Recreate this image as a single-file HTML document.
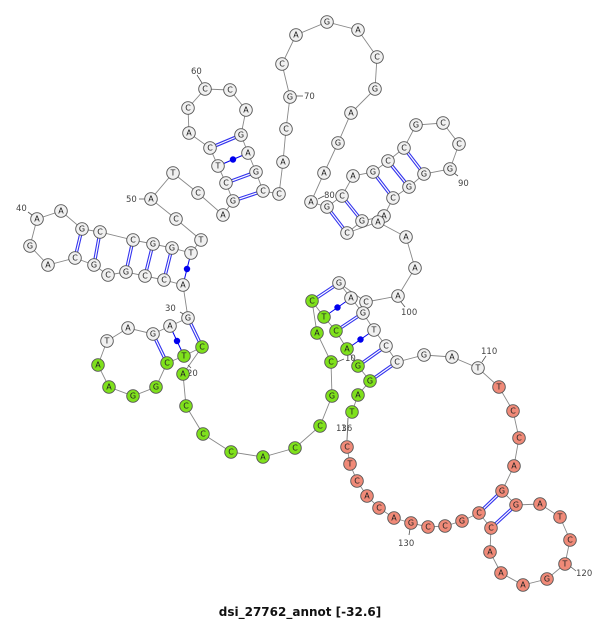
<!DOCTYPE html>
<html><head><meta charset="utf-8"><style>
html,body{margin:0;padding:0;background:#fff;width:600px;height:623px;overflow:hidden}
svg{display:block}
.n circle{stroke:#555;stroke-width:0.9}
.n text{font-family:"DejaVu Sans","Liberation Sans",sans-serif;font-size:8px;text-anchor:middle;dominant-baseline:central;fill:#222}
.w circle{fill:#f0f0f0}.g circle{fill:#7fe11c}.r circle{fill:#f08a78}
.lb{font-family:"DejaVu Sans","Liberation Sans",sans-serif;font-size:8.5px;fill:#444}
</style></head><body>
<svg width="600" height="623" viewBox="0 0 600 623" xmlns="http://www.w3.org/2000/svg">
<polyline fill="none" stroke="#888" stroke-width="0.9" points="352,412 358,395 370,381 358,366 347,349 336,331 324,317 312,301 317,333 331,362 332,396 320,426 295,448 263,457 231,452 203,434 186,406 183,374 202,347 184,356 167,363 156,387 133,396 109,387 98,365 107,341 128,328 153,334 170,326 188,318 183,285 164,280 145,276 126,272 108,275 94,265 75,258 48,265 30,246 37,219 61,211 82,229 100,232 133,240 153,244 172,248 191,253 201,240 176,219 151,199 173,173 198,193 223,215 233,201 226,183 218,166 210,148 189,133 188,108 205,89 230,90 246,110 241,135 248,153 256,172 263,191 279,194 283,162 286,129 290,97 282,64 296,35 327,22 358,30 377,57 375,89 351,113 338,143 324,173 311,202 327,207 342,196 353,176 373,172 388,161 404,148 416,125 443,123 459,144 450,169 424,174 409,187 393,198 384,216 362,221 347,233 378,222 406,237 415,268 398,296 366,302 339,283 351,298 363,313 374,330 386,346 397,362 424,355 452,357 478,368 499,387 513,411 519,438 514,466 502,491 516,505 540,504 560,517 570,540 565,564 547,579 523,585 501,573 490,552 491,528 479,513 462,521 445,526 428,527 411,523 394,518 379,508 367,496 357,481 350,464 347,447"/>
<g stroke="#3333ee" stroke-width="3.4">
<line x1="312" y1="301" x2="339" y2="283"/><line x1="336" y1="331" x2="363" y2="313"/><line x1="358" y1="366" x2="386" y2="346"/><line x1="370" y1="381" x2="397" y2="362"/>
<line x1="202" y1="347" x2="188" y2="318"/><line x1="167" y1="363" x2="153" y2="334"/>
<line x1="172" y1="248" x2="164" y2="280"/><line x1="153" y1="244" x2="145" y2="276"/><line x1="133" y1="240" x2="126" y2="272"/><line x1="100" y1="232" x2="94" y2="265"/><line x1="82" y1="229" x2="75" y2="258"/>
<line x1="233" y1="201" x2="263" y2="191"/><line x1="226" y1="183" x2="256" y2="172"/><line x1="210" y1="148" x2="241" y2="135"/>
<line x1="327" y1="207" x2="347" y2="233"/><line x1="342" y1="196" x2="362" y2="221"/><line x1="373" y1="172" x2="393" y2="198"/><line x1="388" y1="161" x2="409" y2="187"/><line x1="404" y1="148" x2="424" y2="174"/>
<line x1="502" y1="491" x2="479" y2="513"/><line x1="516" y1="505" x2="491" y2="528"/>
</g>
<g stroke="#fff" stroke-width="1.2">
<line x1="312" y1="301" x2="339" y2="283"/><line x1="336" y1="331" x2="363" y2="313"/><line x1="358" y1="366" x2="386" y2="346"/><line x1="370" y1="381" x2="397" y2="362"/>
<line x1="202" y1="347" x2="188" y2="318"/><line x1="167" y1="363" x2="153" y2="334"/>
<line x1="172" y1="248" x2="164" y2="280"/><line x1="153" y1="244" x2="145" y2="276"/><line x1="133" y1="240" x2="126" y2="272"/><line x1="100" y1="232" x2="94" y2="265"/><line x1="82" y1="229" x2="75" y2="258"/>
<line x1="233" y1="201" x2="263" y2="191"/><line x1="226" y1="183" x2="256" y2="172"/><line x1="210" y1="148" x2="241" y2="135"/>
<line x1="327" y1="207" x2="347" y2="233"/><line x1="342" y1="196" x2="362" y2="221"/><line x1="373" y1="172" x2="393" y2="198"/><line x1="388" y1="161" x2="409" y2="187"/><line x1="404" y1="148" x2="424" y2="174"/>
<line x1="502" y1="491" x2="479" y2="513"/><line x1="516" y1="505" x2="491" y2="528"/>
</g>
<g stroke="#0000ee" stroke-width="1"><line x1="324" y1="317" x2="351" y2="298"/><line x1="347" y1="349" x2="374" y2="330"/><line x1="184" y1="356" x2="170" y2="326"/><line x1="191" y1="253" x2="183" y2="285"/><line x1="218" y1="166" x2="248" y2="153"/></g>
<g fill="#0000ee"><circle cx="337.5" cy="307.5" r="3.2"/><circle cx="360.5" cy="339.5" r="3.2"/><circle cx="177" cy="341" r="3.2"/><circle cx="187" cy="269" r="3.2"/><circle cx="233" cy="159.5" r="3.2"/></g>
<g stroke="#555" stroke-width="0.8">
<line x1="197" y1="75" x2="202" y2="83"/><line x1="296" y1="96" x2="303" y2="96"/><line x1="28" y1="212" x2="32" y2="215"/><line x1="139" y1="199" x2="145" y2="199"/><line x1="318" y1="199" x2="324" y2="196"/><line x1="454" y1="173" x2="458" y2="176"/><line x1="401" y1="302" x2="405" y2="307"/><line x1="482" y1="362" x2="486" y2="356"/><line x1="571" y1="567" x2="576" y2="571"/><line x1="410" y1="529" x2="409" y2="535"/><line x1="337" y1="362" x2="344" y2="359"/><line x1="188" y1="365" x2="191" y2="368"/><line x1="180" y1="312" x2="185" y2="315"/><line x1="348" y1="418" x2="347" y2="440"/>
</g>
<g class="lb">
<text x="191" y="74">60</text><text x="304" y="99">70</text><text x="16" y="211">40</text><text x="126" y="202">50</text><text x="324" y="198">80</text><text x="458" y="186">90</text><text x="401" y="315">100</text><text x="481" y="354">110</text><text x="576" y="576">120</text><text x="398" y="546">130</text><text x="345" y="361">10</text><text x="187" y="376">20</text><text x="165" y="311">30</text><text x="336" y="431">136</text><text x="341" y="431">1</text>
</g>
<g class="n g">
<circle cx="352" cy="412" r="6.3"/><text x="352" y="412">T</text><circle cx="358" cy="395" r="6.3"/><text x="358" y="395">A</text><circle cx="370" cy="381" r="6.3"/><text x="370" y="381">G</text><circle cx="358" cy="366" r="6.3"/><text x="358" y="366">G</text><circle cx="347" cy="349" r="6.3"/><text x="347" y="349">A</text><circle cx="336" cy="331" r="6.3"/><text x="336" y="331">C</text><circle cx="324" cy="317" r="6.3"/><text x="324" y="317">T</text><circle cx="312" cy="301" r="6.3"/><text x="312" y="301">C</text><circle cx="317" cy="333" r="6.3"/><text x="317" y="333">A</text><circle cx="331" cy="362" r="6.3"/><text x="331" y="362">C</text><circle cx="332" cy="396" r="6.3"/><text x="332" y="396">G</text><circle cx="320" cy="426" r="6.3"/><text x="320" y="426">C</text><circle cx="295" cy="448" r="6.3"/><text x="295" y="448">C</text><circle cx="263" cy="457" r="6.3"/><text x="263" y="457">A</text><circle cx="231" cy="452" r="6.3"/><text x="231" y="452">C</text><circle cx="203" cy="434" r="6.3"/><text x="203" y="434">C</text><circle cx="186" cy="406" r="6.3"/><text x="186" y="406">C</text><circle cx="183" cy="374" r="6.3"/><text x="183" y="374">A</text><circle cx="202" cy="347" r="6.3"/><text x="202" y="347">C</text><circle cx="184" cy="356" r="6.3"/><text x="184" y="356">T</text><circle cx="167" cy="363" r="6.3"/><text x="167" y="363">C</text><circle cx="156" cy="387" r="6.3"/><text x="156" y="387">G</text><circle cx="133" cy="396" r="6.3"/><text x="133" y="396">G</text><circle cx="109" cy="387" r="6.3"/><text x="109" y="387">A</text><circle cx="98" cy="365" r="6.3"/><text x="98" y="365">A</text>
</g>
<g class="n w">
<circle cx="107" cy="341" r="6.3"/><text x="107" y="341">T</text><circle cx="128" cy="328" r="6.3"/><text x="128" y="328">A</text><circle cx="153" cy="334" r="6.3"/><text x="153" y="334">G</text><circle cx="170" cy="326" r="6.3"/><text x="170" y="326">A</text><circle cx="188" cy="318" r="6.3"/><text x="188" y="318">G</text><circle cx="183" cy="285" r="6.3"/><text x="183" y="285">A</text><circle cx="164" cy="280" r="6.3"/><text x="164" y="280">C</text><circle cx="145" cy="276" r="6.3"/><text x="145" y="276">C</text><circle cx="126" cy="272" r="6.3"/><text x="126" y="272">G</text><circle cx="108" cy="275" r="6.3"/><text x="108" y="275">C</text><circle cx="94" cy="265" r="6.3"/><text x="94" y="265">G</text><circle cx="75" cy="258" r="6.3"/><text x="75" y="258">C</text><circle cx="48" cy="265" r="6.3"/><text x="48" y="265">A</text><circle cx="30" cy="246" r="6.3"/><text x="30" y="246">G</text><circle cx="37" cy="219" r="6.3"/><text x="37" y="219">A</text><circle cx="61" cy="211" r="6.3"/><text x="61" y="211">A</text><circle cx="82" cy="229" r="6.3"/><text x="82" y="229">G</text><circle cx="100" cy="232" r="6.3"/><text x="100" y="232">C</text><circle cx="133" cy="240" r="6.3"/><text x="133" y="240">C</text><circle cx="153" cy="244" r="6.3"/><text x="153" y="244">G</text><circle cx="172" cy="248" r="6.3"/><text x="172" y="248">G</text><circle cx="191" cy="253" r="6.3"/><text x="191" y="253">T</text><circle cx="201" cy="240" r="6.3"/><text x="201" y="240">T</text><circle cx="176" cy="219" r="6.3"/><text x="176" y="219">C</text><circle cx="151" cy="199" r="6.3"/><text x="151" y="199">A</text><circle cx="173" cy="173" r="6.3"/><text x="173" y="173">T</text><circle cx="198" cy="193" r="6.3"/><text x="198" y="193">C</text><circle cx="223" cy="215" r="6.3"/><text x="223" y="215">A</text><circle cx="233" cy="201" r="6.3"/><text x="233" y="201">G</text><circle cx="226" cy="183" r="6.3"/><text x="226" y="183">C</text><circle cx="218" cy="166" r="6.3"/><text x="218" y="166">T</text><circle cx="210" cy="148" r="6.3"/><text x="210" y="148">C</text><circle cx="189" cy="133" r="6.3"/><text x="189" y="133">A</text><circle cx="188" cy="108" r="6.3"/><text x="188" y="108">C</text><circle cx="205" cy="89" r="6.3"/><text x="205" y="89">C</text><circle cx="230" cy="90" r="6.3"/><text x="230" y="90">C</text><circle cx="246" cy="110" r="6.3"/><text x="246" y="110">A</text><circle cx="241" cy="135" r="6.3"/><text x="241" y="135">G</text><circle cx="248" cy="153" r="6.3"/><text x="248" y="153">A</text><circle cx="256" cy="172" r="6.3"/><text x="256" y="172">G</text><circle cx="263" cy="191" r="6.3"/><text x="263" y="191">C</text><circle cx="279" cy="194" r="6.3"/><text x="279" y="194">C</text><circle cx="283" cy="162" r="6.3"/><text x="283" y="162">A</text><circle cx="286" cy="129" r="6.3"/><text x="286" y="129">C</text><circle cx="290" cy="97" r="6.3"/><text x="290" y="97">G</text><circle cx="282" cy="64" r="6.3"/><text x="282" y="64">C</text><circle cx="296" cy="35" r="6.3"/><text x="296" y="35">A</text><circle cx="327" cy="22" r="6.3"/><text x="327" y="22">G</text><circle cx="358" cy="30" r="6.3"/><text x="358" y="30">A</text><circle cx="377" cy="57" r="6.3"/><text x="377" y="57">C</text><circle cx="375" cy="89" r="6.3"/><text x="375" y="89">G</text><circle cx="351" cy="113" r="6.3"/><text x="351" y="113">A</text><circle cx="338" cy="143" r="6.3"/><text x="338" y="143">G</text><circle cx="324" cy="173" r="6.3"/><text x="324" y="173">A</text><circle cx="311" cy="202" r="6.3"/><text x="311" y="202">A</text><circle cx="327" cy="207" r="6.3"/><text x="327" y="207">G</text><circle cx="342" cy="196" r="6.3"/><text x="342" y="196">C</text><circle cx="353" cy="176" r="6.3"/><text x="353" y="176">A</text><circle cx="373" cy="172" r="6.3"/><text x="373" y="172">G</text><circle cx="388" cy="161" r="6.3"/><text x="388" y="161">C</text><circle cx="404" cy="148" r="6.3"/><text x="404" y="148">C</text><circle cx="416" cy="125" r="6.3"/><text x="416" y="125">G</text><circle cx="443" cy="123" r="6.3"/><text x="443" y="123">C</text><circle cx="459" cy="144" r="6.3"/><text x="459" y="144">C</text><circle cx="450" cy="169" r="6.3"/><text x="450" y="169">G</text><circle cx="424" cy="174" r="6.3"/><text x="424" y="174">G</text><circle cx="409" cy="187" r="6.3"/><text x="409" y="187">G</text><circle cx="393" cy="198" r="6.3"/><text x="393" y="198">C</text><circle cx="384" cy="216" r="6.3"/><text x="384" y="216">A</text><circle cx="362" cy="221" r="6.3"/><text x="362" y="221">G</text><circle cx="347" cy="233" r="6.3"/><text x="347" y="233">C</text><circle cx="378" cy="222" r="6.3"/><text x="378" y="222">A</text><circle cx="406" cy="237" r="6.3"/><text x="406" y="237">A</text><circle cx="415" cy="268" r="6.3"/><text x="415" y="268">A</text><circle cx="398" cy="296" r="6.3"/><text x="398" y="296">A</text><circle cx="366" cy="302" r="6.3"/><text x="366" y="302">C</text><circle cx="339" cy="283" r="6.3"/><text x="339" y="283">G</text><circle cx="351" cy="298" r="6.3"/><text x="351" y="298">A</text><circle cx="363" cy="313" r="6.3"/><text x="363" y="313">G</text><circle cx="374" cy="330" r="6.3"/><text x="374" y="330">T</text><circle cx="386" cy="346" r="6.3"/><text x="386" y="346">C</text><circle cx="397" cy="362" r="6.3"/><text x="397" y="362">C</text><circle cx="424" cy="355" r="6.3"/><text x="424" y="355">G</text><circle cx="452" cy="357" r="6.3"/><text x="452" y="357">A</text><circle cx="478" cy="368" r="6.3"/><text x="478" y="368">T</text>
</g>
<g class="n r">
<circle cx="499" cy="387" r="6.3"/><text x="499" y="387">T</text><circle cx="513" cy="411" r="6.3"/><text x="513" y="411">C</text><circle cx="519" cy="438" r="6.3"/><text x="519" y="438">C</text><circle cx="514" cy="466" r="6.3"/><text x="514" y="466">A</text><circle cx="502" cy="491" r="6.3"/><text x="502" y="491">G</text><circle cx="516" cy="505" r="6.3"/><text x="516" y="505">G</text><circle cx="540" cy="504" r="6.3"/><text x="540" y="504">A</text><circle cx="560" cy="517" r="6.3"/><text x="560" y="517">T</text><circle cx="570" cy="540" r="6.3"/><text x="570" y="540">C</text><circle cx="565" cy="564" r="6.3"/><text x="565" y="564">T</text><circle cx="547" cy="579" r="6.3"/><text x="547" y="579">G</text><circle cx="523" cy="585" r="6.3"/><text x="523" y="585">A</text><circle cx="501" cy="573" r="6.3"/><text x="501" y="573">A</text><circle cx="490" cy="552" r="6.3"/><text x="490" y="552">A</text><circle cx="491" cy="528" r="6.3"/><text x="491" y="528">C</text><circle cx="479" cy="513" r="6.3"/><text x="479" y="513">C</text><circle cx="462" cy="521" r="6.3"/><text x="462" y="521">G</text><circle cx="445" cy="526" r="6.3"/><text x="445" y="526">C</text><circle cx="428" cy="527" r="6.3"/><text x="428" y="527">C</text><circle cx="411" cy="523" r="6.3"/><text x="411" y="523">G</text><circle cx="394" cy="518" r="6.3"/><text x="394" y="518">A</text><circle cx="379" cy="508" r="6.3"/><text x="379" y="508">C</text><circle cx="367" cy="496" r="6.3"/><text x="367" y="496">A</text><circle cx="357" cy="481" r="6.3"/><text x="357" y="481">C</text><circle cx="350" cy="464" r="6.3"/><text x="350" y="464">T</text><circle cx="347" cy="447" r="6.3"/><text x="347" y="447">C</text>
</g>
<text x="300" y="616" text-anchor="middle" style="font-family:'DejaVu Sans','Liberation Sans',sans-serif;font-weight:bold;font-size:12px;fill:#111">dsi_27762_annot [-32.6]</text>
</svg>
</body></html>
